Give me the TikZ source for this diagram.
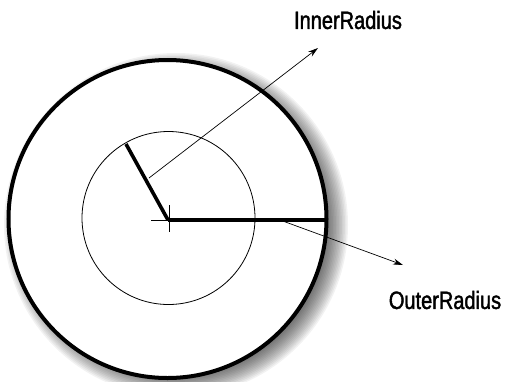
\documentclass[tikz,border=0pt]{standalone}
\usepackage{fontspec}
\usetikzlibrary{arrows.meta}
\newfontfamily\labfont[FakeStretch=0.8,FakeBold=1.6]{Liberation Sans}
\begin{document}
\begin{tikzpicture}[x=1pt,y=-1pt,
  thickline/.style={line width=3.6pt},
  thinline/.style={line width=0.8pt},
  pointer/.style={line width=0.7pt,-{Stealth[length=10pt,width=6pt]}},
  lab/.style={font=\labfont\fontsize{25}{27}\selectfont,inner sep=0pt}]
\useasboundingbox (0,0) rectangle (506,381);
% soft shadow of the outer circle
\foreach \i in {0,...,13}{
  \fill[black,opacity=0.05] (176,225) circle[radius=172-\i*1.5];
}
\fill[white] (167.5,219) circle[radius=159];
\draw[line width=4pt] (167.5,219) circle[radius=159];
% inner circle
\draw[thinline] (168.5,218) circle[radius=86.5];
% named points
\coordinate (C) at (168,220);
\coordinate (OR) at (326,220);
\coordinate (IR) at (126,144);
\coordinate (IS) at (149,178);
\coordinate (IT) at (318,48);
\coordinate (OS) at (280,220);
\coordinate (OT) at (403,265);
\coordinate (CL) at (151,220);
\coordinate (CU) at (169,205);
\coordinate (CD) at (169,232);
% centre cross
\draw[thinline] (CL) -- (C);
\draw[thinline] (CU) -- (CD);
% radii
\draw[thickline] (C) -- (OR);
\draw[thickline] (C) -- (IR);
% pointers
\draw[pointer] (IS) -- (IT);
\draw[pointer] (OS) -- (OT);
% labels
\node[lab] (inl) at (348,20) {InnerRadius};
\node[lab] (outl) at (445,300) {OuterRadius};
\end{tikzpicture}
\end{document}
